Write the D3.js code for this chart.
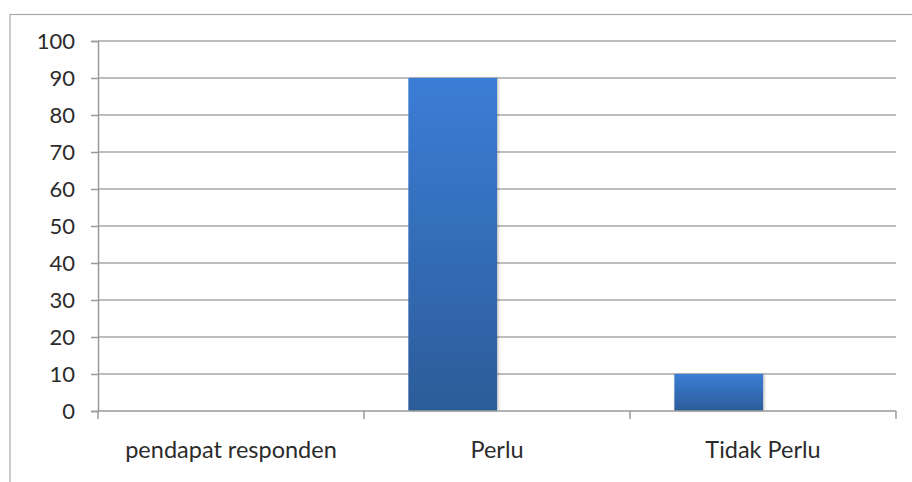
<!DOCTYPE html>
<html><head><meta charset="utf-8">
<script src="https://cdn.jsdelivr.net/npm/d3@7"></script>
<style>body{margin:0;background:#fff}svg{display:block}</style>
</head><body>
<script>
const categories = ["pendapat responden", "Perlu", "Tidak Perlu"];
const seriesNames = ["Series1", "Series2"];
const series1 = [0, 90, 10];
const series2 = [null, null, null];
const yTicks = [0, 10, 20, 30, 40, 50, 60, 70, 80, 90, 100];

(function () {
const W = 912, H = 482;
const svg = d3.select("body").append("svg").attr("width", W).attr("height", H);

const defs = svg.append("defs");
const grad = defs.append("linearGradient").attr("id", "barGrad")
  .attr("x1", 0).attr("y1", 0).attr("x2", 0).attr("y2", 1);
grad.append("stop").attr("offset", "0%").attr("stop-color", "#3b7dd6");
grad.append("stop").attr("offset", "100%").attr("stop-color", "#2c5c99");
const f = defs.append("filter").attr("id", "sh").attr("x", "-20%").attr("y", "-5%").attr("width", "140%").attr("height", "110%");
f.append("feDropShadow").attr("dx", 1.5).attr("dy", 0).attr("stdDeviation", 1.2)
  .attr("flood-color", "#000").attr("flood-opacity", 0.25);

// chart border
svg.append("rect").attr("x", 10).attr("y", 14.5).attr("width", 940).attr("height", 520)
  .attr("fill", "none").attr("stroke", "#a9a9a9").attr("stroke-width", 1.2);

const pL = 98, pR = 896, pT = 41, pB = 411;
const x = d3.scaleBand().domain(categories).range([pL, pR]).padding(0);
const xi = d3.scaleBand().domain(seriesNames).range([0, x.bandwidth()]).paddingInner(0).paddingOuter(0.5);
const y = d3.scaleLinear().domain([0, 100]).range([pB, pT]);

const font = "Lato, 'Open Sans', sans-serif";
const textColor = "#2b2b2b";

// gridlines
svg.append("g").selectAll("line").data(yTicks.filter(d => d > 0)).join("line")
  .attr("x1", pL).attr("x2", pR)
  .attr("y1", d => y(d)).attr("y2", d => y(d))
  .attr("stroke", "#a8a8a8").attr("stroke-width", 1.5);

// y axis
const yAxis = d3.axisLeft(y).tickValues(yTicks).tickSize(7).tickPadding(16).tickFormat(d3.format("d"));
const gy = svg.append("g").attr("transform", `translate(${pL},0)`).call(yAxis);
gy.select(".domain").attr("stroke", "#9a9a9a").attr("stroke-width", 1.5);
gy.selectAll(".tick line").attr("stroke", "#9a9a9a").attr("stroke-width", 1.5);
gy.selectAll("text").attr("font-family", font).attr("font-size", 22).attr("fill", textColor);

// bars
const data = categories.map((c, i) => ({c, v: series1[i]}));
svg.append("g").selectAll("rect").data(data.filter(d => d.v > 0)).join("rect")
  .attr("x", d => x(d.c) + xi("Series1"))
  .attr("width", xi.bandwidth())
  .attr("y", d => y(d.v))
  .attr("height", d => y(0) - y(d.v))
  .attr("fill", "url(#barGrad)")
  .attr("filter", "url(#sh)");

// x axis
const xTickPos = categories.map(c => x(c)).concat([pR]);
const gx = svg.append("g");
gx.append("line").attr("x1", pL).attr("x2", pR).attr("y1", pB).attr("y2", pB)
  .attr("stroke", "#9a9a9a").attr("stroke-width", 1.5);
gx.selectAll(".tk").data(xTickPos).join("line").attr("class", "tk")
  .attr("x1", d => d).attr("x2", d => d).attr("y1", pB).attr("y2", pB + 8)
  .attr("stroke", "#9a9a9a").attr("stroke-width", 1.5);
gx.selectAll("text").data(categories).join("text")
  .attr("x", d => x(d) + x.bandwidth() / 2)
  .attr("y", 458)
  .attr("text-anchor", "middle")
  .attr("font-family", font).attr("font-size", 23.5).attr("fill", textColor)
  .text(d => d);
})();
</script>
</body></html>
